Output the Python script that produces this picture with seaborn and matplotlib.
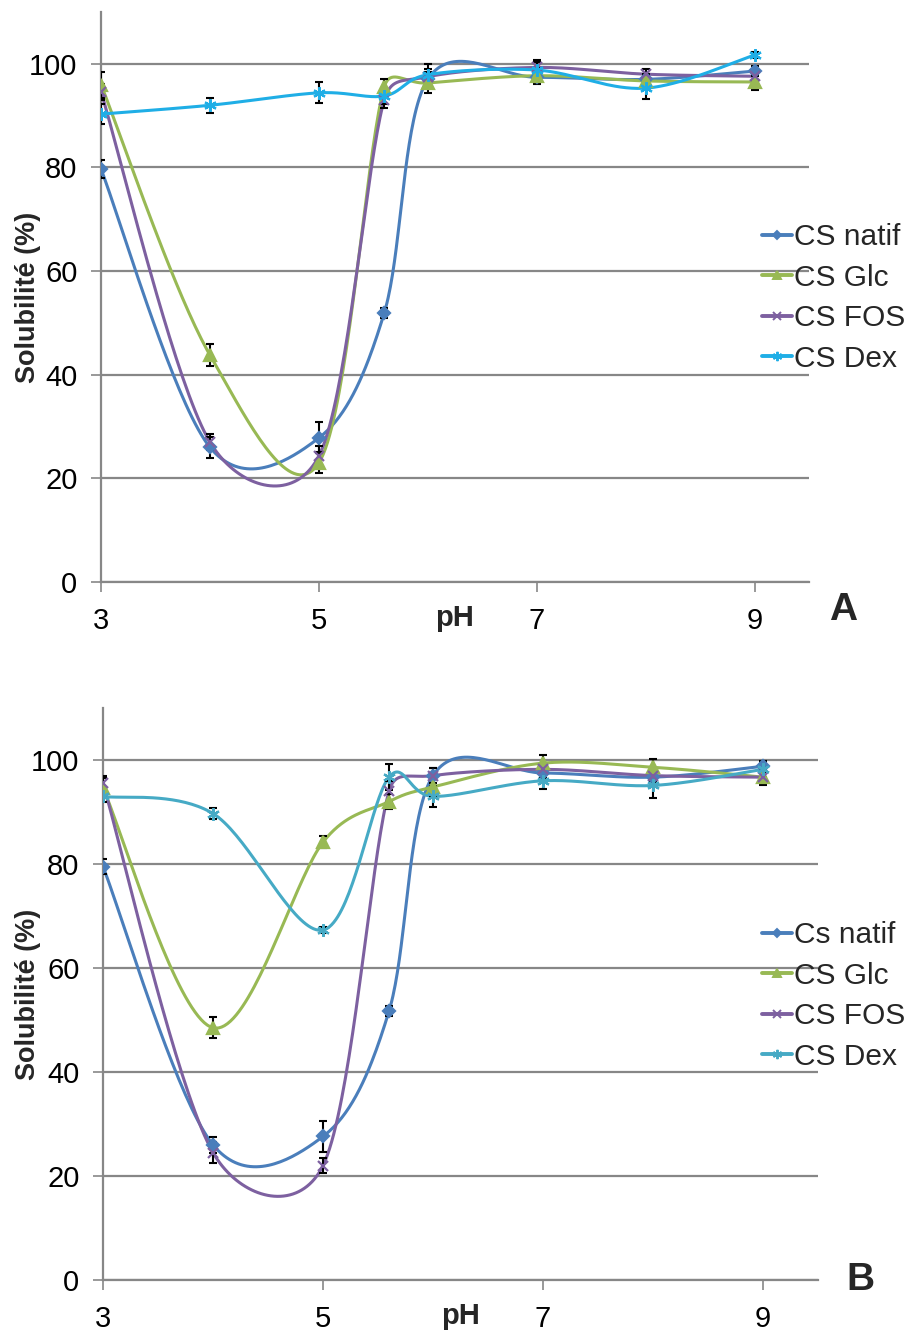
import numpy as np
import pandas as pd
import matplotlib
matplotlib.use('Agg')
import matplotlib.pyplot as plt
import seaborn as sns
from matplotlib.lines import Line2D

# ==================== Data ====================
ph = [3, 4, 5, 5.6, 6, 7, 8, 9]
series_names_a = ['CS natif', 'CS Glc', 'CS FOS', 'CS Dex']
series_names_b = ['Cs natif', 'CS Glc', 'CS FOS', 'CS Dex']

# panel A
a_natif = [79.7, 26.0, 27.8, 51.9, 97.0, 97.4, 97.0, 98.6]
a_glc = [96.0, 43.8, 23.0, 95.5, 96.3, 97.7, 96.7, 96.5]
a_fos = [94.6, 27.0, 24.3, 93.0, 97.5, 99.3, 98.0, 97.6]
a_dex = [90.3, 92.0, 94.4, 93.8, 97.9, 98.8, 95.3, 101.7]
a_err_natif = [1.7, 2.0, 3.0, 1.0, 1.5, 1.0, 1.0, 1.0]
a_err_glc = [2.5, 2.2, 2.0, 1.5, 2.0, 1.5, 1.0, 1.5]
a_err_fos = [1.5, 1.5, 2.0, 1.5, 1.5, 1.5, 1.0, 1.0]
a_err_dex = [2.0, 1.5, 2.0, 1.5, 2.0, 1.5, 2.0, 0.5]

# panel B
b_natif = [79.5, 26.0, 27.6, 51.7, 97.0, 97.5, 96.7, 98.8]
b_glc = [94.6, 48.5, 84.2, 92.0, 94.8, 99.4, 98.6, 96.7]
b_fos = [95.5, 24.5, 22.0, 94.0, 97.0, 98.2, 97.0, 96.7]
b_dex = [93.0, 89.7, 67.3, 96.7, 93.0, 96.0, 95.1, 98.2]
b_err_natif = [1.5, 1.5, 3.0, 1.0, 1.5, 1.0, 1.0, 1.0]
b_err_glc = [2.0, 2.0, 1.2, 1.5, 2.0, 1.5, 1.5, 1.5]
b_err_fos = [1.5, 2.0, 1.5, 2.0, 1.5, 1.0, 1.0, 1.0]
b_err_dex = [1.0, 1.0, 0.5, 2.5, 2.0, 1.5, 2.5, 1.5]

# ==================== Style ====================
sns.set_theme(style='white')
plt.rcParams['font.family'] = ['Liberation Sans', 'DejaVu Sans']

colors_a = ['#4A7EBB', '#98B954', '#7D60A0', '#1FAEE6']
colors_b = ['#4A7EBB', '#98B954', '#7D60A0', '#46AAC5']
markers = ['D', '^', 'x', (6, 2, 0)]
msizes = [6, 8, 7, 9]
grid_col = '#878787'

# pixel per unit, used so the smoothing behaves like it does on screen
SX, SY = 109.0, 5.18


def smooth(x, y, n=40, k=0.5):
    # Excel-like smoothed line: Catmull-Rom Bezier, control arms clamped to k * segment length
    P = np.column_stack([np.asarray(x, float) * SX, np.asarray(y, float) * SY])
    out = []
    for i in range(len(P) - 1):
        p0 = P[max(i - 1, 0)]
        p1 = P[i]
        p2 = P[i + 1]
        p3 = P[min(i + 2, len(P) - 1)]
        d12 = np.linalg.norm(p2 - p1)
        v1 = (p2 - p0) / 6
        v2 = (p3 - p1) / 6
        for v in (v1, v2):
            L = np.linalg.norm(v)
            if L > k * d12:
                v *= k * d12 / L
        c1 = p1 + v1
        c2 = p2 - v2
        t = np.linspace(0, 1, n)[:, None]
        seg = ((1 - t) ** 3) * p1 + 3 * ((1 - t) ** 2) * t * c1 + 3 * (1 - t) * t ** 2 * c2 + t ** 3 * p2
        out.append(seg if i == 0 else seg[1:])
    out = np.vstack(out)
    return out[:, 0] / SX, out[:, 1] / SY


def draw_panel(ax, values, errors, names, colors, leg_anchor, ylab_x, fig):
    for vals, errs, name, col, mk, ms in zip(values, errors, names, colors, markers, msizes):
        sx, sy = smooth(ph, vals)
        df = pd.DataFrame({'pH': sx, 'sol': sy})
        sns.lineplot(data=df, x='pH', y='sol', ax=ax, color=col, lw=2.2,
                     sort=False, estimator=None, zorder=3)
        ax.errorbar(ph, vals, yerr=errs, fmt='none', ecolor='black',
                    elinewidth=1.5, capsize=3, capthick=1.5, zorder=4)
        ax.plot(ph, vals, ls='none', marker=mk, ms=ms, color=col,
                mec=col, mew=1.6, zorder=5)

    ax.set_xlim(3, 9.5)
    ax.set_ylim(0, 110)
    ax.set_xticks([3, 5, 7, 9])
    ax.set_yticks([0, 20, 40, 60, 80, 100])
    ax.yaxis.grid(True, color=grid_col, lw=1.6)
    ax.xaxis.grid(False)
    ax.set_axisbelow(True)
    for s in ['top', 'right']:
        ax.spines[s].set_visible(False)
    for s in ['left', 'bottom']:
        ax.spines[s].set_color(grid_col)
        ax.spines[s].set_linewidth(1.6)
    ax.tick_params(axis='both', which='major', labelsize=21, colors=grid_col,
                   labelcolor='black', direction='out', length=7, width=1.2,
                   left=True, bottom=True)
    ax.tick_params(axis='y', pad=10)
    ax.tick_params(axis='x', pad=11)
    ax.set_xlabel('')
    ax.set_ylabel('Solubilité (%)', fontsize=19.5, fontweight='bold', va='center')
    ax.yaxis.set_label_coords(ylab_x, 0.5)
    ax.text(0.5, -0.063, 'pH', transform=ax.transAxes, ha='center', va='center',
            fontsize=21, fontweight='bold')

    handles = [Line2D([0], [0], color=c, lw=2.8, marker=m, ms=ms * 0.75, mew=1.4)
               for c, m, ms in zip(colors, markers, msizes)]
    ax.legend(handles, names, loc='center left', bbox_to_anchor=leg_anchor,
              bbox_transform=fig.transFigure, frameon=False, fontsize=21.5,
              handlelength=1.0, handletextpad=0.08, labelspacing=0.42,
              borderpad=0, borderaxespad=0)
    return ax


fig = plt.figure(figsize=(9.06, 13.34), dpi=100)
ax_a = fig.add_axes([101 / 906, 1 - 582 / 1334, (809 - 101) / 906, (582 - 12) / 1334])
ax_b = fig.add_axes([103 / 906, 1 - 1280 / 1334, (818 - 103) / 906, (1280 - 708) / 1334])

draw_panel(ax_a, [a_natif, a_glc, a_fos, a_dex],
           [a_err_natif, a_err_glc, a_err_fos, a_err_dex],
           series_names_a, colors_a, (762 / 906, 1 - 298 / 1334), -0.103, fig)
draw_panel(ax_b, [b_natif, b_glc, b_fos, b_dex],
           [b_err_natif, b_err_glc, b_err_fos, b_err_dex],
           series_names_b, colors_b, (762 / 906, 1 - 996 / 1334), -0.105, fig)

fig.text(843 / 906, 1 - 610 / 1334, 'A', ha='center', va='center',
         fontsize=28, fontweight='bold')
fig.text(860 / 906, 1 - 1280 / 1334, 'B', ha='center', va='center',
         fontsize=28, fontweight='bold')

fig.savefig('out.png', dpi=100)
plt.close(fig)
